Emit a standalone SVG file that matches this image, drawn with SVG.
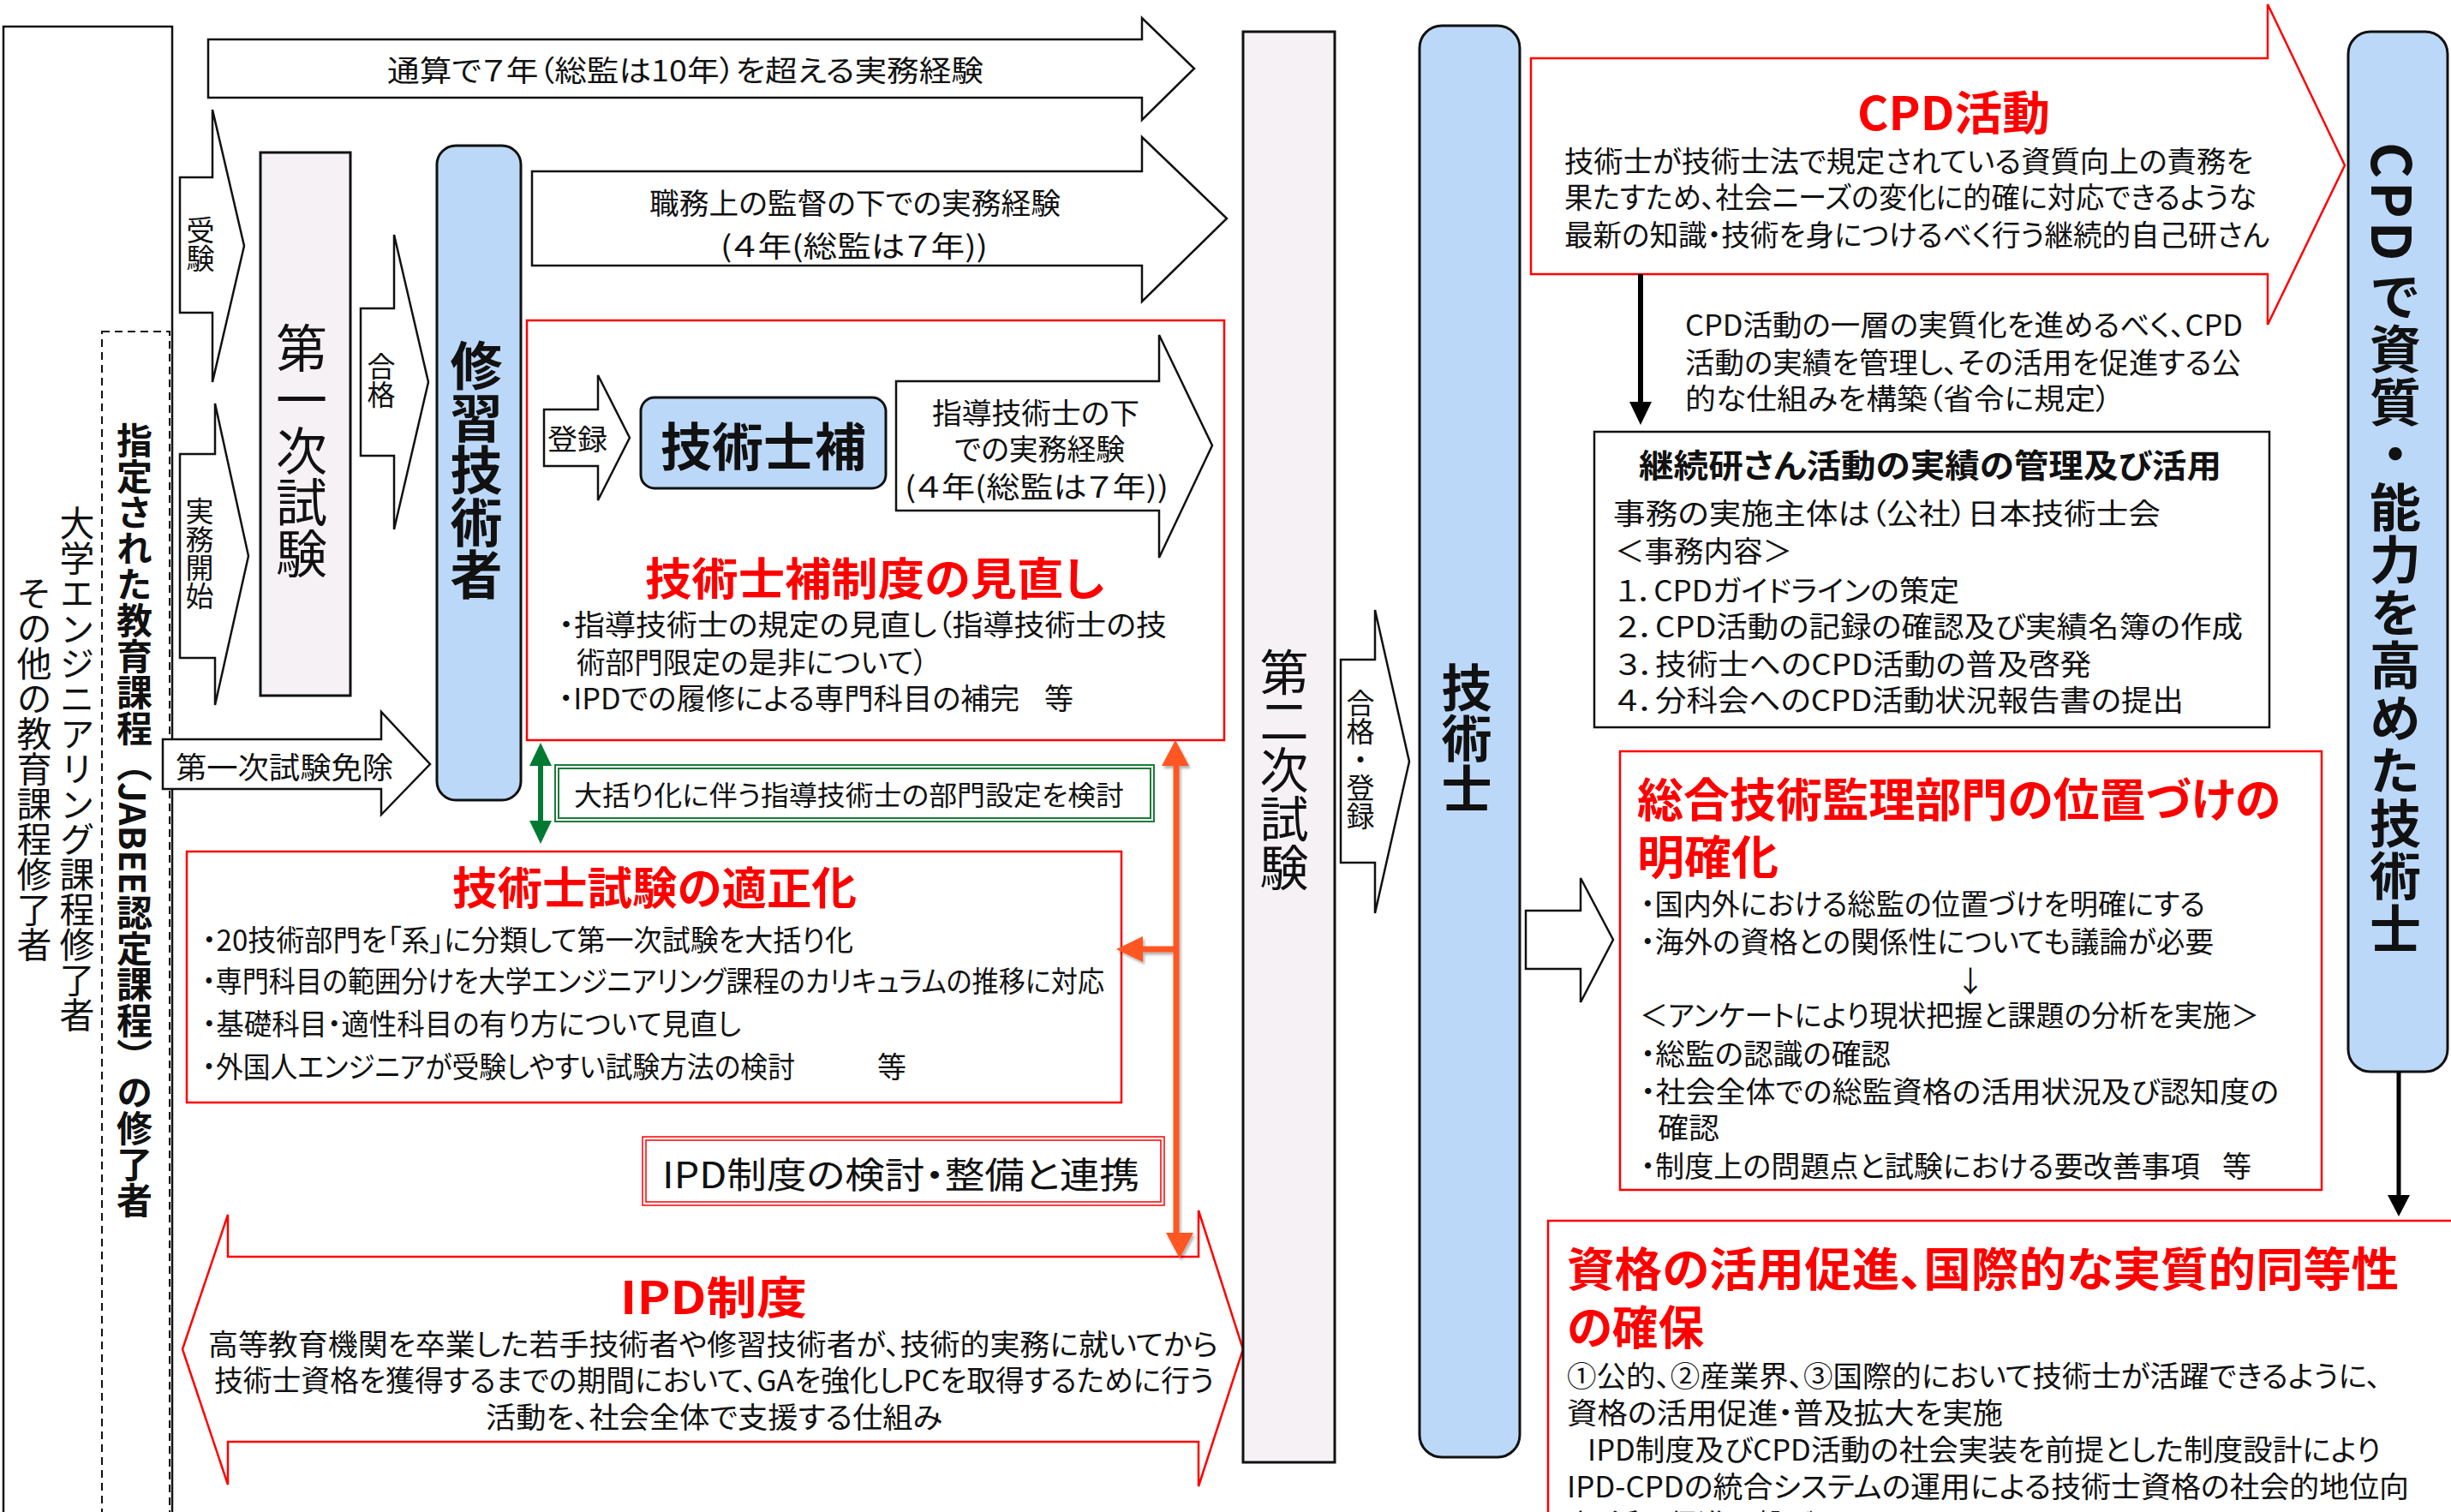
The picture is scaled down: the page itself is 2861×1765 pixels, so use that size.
<svg xmlns="http://www.w3.org/2000/svg" width="2861" height="1765" viewBox="0 0 2861 1765">
<defs>
<style>
text{font-family:"Noto Sans CJK JP","Noto Sans",sans-serif;fill:#111;dominant-baseline:central;font-size:34px}
.h{font-feature-settings:"palt"}
.v{writing-mode:vertical-rl;text-orientation:mixed}
.b{font-weight:bold}
.red{fill:#ff0000}
.f32{font-size:32px}.f33{font-size:33px}.f35{font-size:35px}.f38{font-size:38px}.f41{font-size:41px}.f42{font-size:42px}
.f52{font-size:52px}.f54{font-size:54px}.f57{font-size:57px}.f59{font-size:59px}.f60{font-size:60px}.f61{font-size:61px}.f64{font-size:64px}
.wb{fill:#fff;stroke:#111;stroke-width:2.5}
.rb{fill:#fff;stroke:#ff0000;stroke-width:2.5}
.rbn{fill:none;stroke:#ff0000;stroke-width:1.5}
.blue{fill:#bcd8f8;stroke:#111;stroke-width:3}
.lav{fill:#f5f1f5;stroke:#111;stroke-width:3}
.gb{fill:none;stroke:#1e7b3a;stroke-width:2}
.org{stroke:#ff5722;stroke-width:7}
</style>
<filter id="sh" x="-20%" y="-5%" width="140%" height="110%">
<feDropShadow dx="2" dy="3" stdDeviation="1.5" flood-color="#000" flood-opacity="0.3"/>
</filter>
</defs>
<rect width="2861" height="1765" fill="#fff"/>

<g id="left-box">
<rect x="4" y="31" width="197" height="1760" class="wb" stroke-width="3"/>
<text class="v f41" x="40" y="672">その他の教育課程修了者</text>
<text class="v f41" x="90" y="590">大学エンジニアリング課程修了者</text>
</g>
<g id="jabee-box">
<rect x="119" y="387" width="79" height="1400" fill="none" stroke="#111" stroke-width="2" stroke-dasharray="9,6"/>
<text class="v b f42" x="157" y="493">指定された教育課程（JABEE認定課程）の修了者</text>
</g>

<g id="arrow-total">
<polygon points="243,46 1333,46 1333,21 1394,80 1333,140 1333,114 243,114" class="wb"/>
<text class="h" x="452" y="80" textLength="696" lengthAdjust="spacingAndGlyphs">通算で７年（総監は10年）を超える実務経験</text>
</g>
<g id="arrow-supervised">
<polygon points="621,200 1333,200 1333,160 1432,255 1333,352 1333,310 621,310" class="wb"/>
<text class="h" x="758" y="235" textLength="480" lengthAdjust="spacingAndGlyphs">職務上の監督の下での実務経験</text>
<text class="h" x="841" y="285" textLength="312" lengthAdjust="spacingAndGlyphs">(４年(総監は７年))</text>
</g>
<g id="arrow-juken">
<polygon points="210,207 248,207 248,128 285,287 248,446 248,365 210,365" class="wb" stroke-width="2"/>
<text class="v f33" x="234" y="252">受験</text>
</g>
<g id="arrow-jitsumu">
<polygon points="210,530 251,530 251,471 290,649 251,823 251,768 210,768" class="wb" stroke-width="2"/>
<text class="v f33" x="233" y="580">実務開始</text>
</g>
<g id="first-exam">
<rect x="304" y="178" width="105" height="634" class="lav"/>
<text class="v f60" x="352" y="376">第一次試験</text>
</g>
<g id="arrow-goukaku">
<polygon points="421,360 460,360 460,274 500,446 460,618 460,532 421,532" class="wb" stroke-width="2"/>
<text class="v f33" x="445" y="411">合格</text>
</g>
<g id="shushu">
<rect x="510" y="170" width="98" height="764" rx="22" class="blue"/>
<text class="v b f61" x="556" y="396">修習技術者</text>
</g>
<g id="arrow-menjo">
<polygon points="190,863 445,863 445,831 502,892 445,951 445,921 190,921" class="wb"/>
<text class="h f35" x="205" y="893" textLength="254" lengthAdjust="spacingAndGlyphs">第一次試験免除</text>
</g>

<g id="hojo-box">
<rect x="615" y="374" width="814" height="490" class="rb" stroke-width="2"/>
<text class="h b red f52" x="753" y="672" textLength="536" lengthAdjust="spacingAndGlyphs">技術士補制度の見直し</text>
<text class="h" x="652" y="727" textLength="710" lengthAdjust="spacingAndGlyphs">・指導技術士の規定の見直し（指導技術士の技</text>
<text class="h" x="673" y="771" textLength="410" lengthAdjust="spacingAndGlyphs">術部門限定の是非について）</text>
<text class="h" y="813"><tspan x="652" textLength="538" lengthAdjust="spacingAndGlyphs">・IPDでの履修による専門科目の補完</tspan><tspan x="1219">等</tspan></text>
</g>
<g id="arrow-touroku">
<polygon points="635,478 698,478 698,438 735,511 698,584 698,544 635,544" class="wb" stroke-width="2"/>
<text class="h f33" x="639" y="511" textLength="70" lengthAdjust="spacingAndGlyphs">登録</text>
</g>
<g id="hojo">
<rect x="748" y="464" width="286" height="106" rx="16" class="blue" stroke-width="2.5"/>
<text class="b f60" x="891" y="517" text-anchor="middle">技術士補</text>
</g>
<g id="arrow-shido">
<polygon points="1046,445 1353,445 1353,391 1415,520 1353,651 1353,596 1046,596" class="wb"/>
<text class="h" x="1088" y="480" textLength="242" lengthAdjust="spacingAndGlyphs">指導技術士の下</text>
<text class="h" x="1114" y="522" textLength="199" lengthAdjust="spacingAndGlyphs">での実務経験</text>
<text class="h" x="1056" y="566" textLength="308" lengthAdjust="spacingAndGlyphs">(４年(総監は７年))</text>
</g>

<g id="bukatsu-box">
<rect x="648" y="893" width="699" height="66" class="gb"/>
<rect x="652" y="897" width="691" height="58" class="gb" stroke-width="1.2" stroke="#3c9a55"/>
<text class="h f32" x="670" y="926" textLength="642" lengthAdjust="spacingAndGlyphs">大括り化に伴う指導技術士の部門設定を検討</text>
</g>

<g id="tekisei-box">
<rect x="218" y="994" width="1091" height="293" class="rb" stroke-width="2"/>
<text class="h b red f52" x="528" y="1033" textLength="472" lengthAdjust="spacingAndGlyphs">技術士試験の適正化</text>
<text class="h" x="236" y="1095" textLength="760" lengthAdjust="spacingAndGlyphs">・20技術部門を「系」に分類して第一次試験を大括り化</text>
<text class="h" x="236" y="1143" textLength="1053" lengthAdjust="spacingAndGlyphs">・専門科目の範囲分けを大学エンジニアリング課程のカリキュラムの推移に対応</text>
<text class="h" x="236" y="1193" textLength="629" lengthAdjust="spacingAndGlyphs">・基礎科目・適性科目の有り方について見直し</text>
<text class="h" y="1243"><tspan x="236" textLength="692" lengthAdjust="spacingAndGlyphs">・外国人エンジニアが受験しやすい試験方法の検討</tspan><tspan x="1024">等</tspan></text>
</g>

<g id="ipd-kento">
<rect x="750" y="1327" width="609" height="80" class="rbn"/>
<rect x="754" y="1331" width="601" height="72" class="rbn" stroke-width="1.2"/>
<text class="h f42" x="773" y="1368" textLength="557" lengthAdjust="spacingAndGlyphs">IPD制度の検討・整備と連携</text>
</g>

<g id="ipd-arrow">
<polygon points="213,1575 266,1418 266,1467 1399,1467 1399,1413 1451,1575 1399,1735 1399,1683 266,1683 266,1733" class="rb" stroke-width="2.5"/>
<text class="h b red f52" x="724" y="1511" textLength="218" lengthAdjust="spacingAndGlyphs">IPD制度</text>
<text class="h" x="243" y="1567" textLength="1179" lengthAdjust="spacingAndGlyphs">高等教育機関を卒業した若手技術者や修習技術者が、技術的実務に就いてから</text>
<text class="h" x="250" y="1609" textLength="1167" lengthAdjust="spacingAndGlyphs">技術士資格を獲得するまでの期間において、GAを強化しPCを取得するために行う</text>
<text class="h" x="567" y="1652" textLength="533" lengthAdjust="spacingAndGlyphs">活動を、社会全体で支援する仕組み</text>
</g>

<g id="second-exam">
<rect x="1451" y="37" width="107" height="1670" class="lav"/>
<text class="v f57" x="1499" y="756">第二次試験</text>
</g>
<g id="arrow-goukaku-touroku">
<polygon points="1565,770 1605,770 1605,712 1645,889 1605,1066 1605,1007 1565,1007" class="wb" stroke-width="2"/>
<text class="v f33" x="1588" y="804">合格・登録</text>
</g>
<g id="gijutsushi">
<rect x="1657" y="30" width="117" height="1671" rx="26" class="blue"/>
<text class="v b f59" x="1712" y="773">技術士</text>
</g>

<g id="cpd-arrow">
<polygon points="1787,68 2647,68 2647,5 2737,193 2647,379 2647,320 1787,320" class="rb" stroke-width="2.5"/>
<text class="h b red f54" x="2168" y="128" textLength="225" lengthAdjust="spacingAndGlyphs">CPD活動</text>
<text class="h" x="1826" y="186" textLength="804" lengthAdjust="spacingAndGlyphs">技術士が技術士法で規定されている資質向上の責務を</text>
<text class="h" x="1826" y="228" textLength="808" lengthAdjust="spacingAndGlyphs">果たすため、社会ニーズの変化に的確に対応できるような</text>
<text class="h" x="1826" y="272" textLength="823" lengthAdjust="spacingAndGlyphs">最新の知識・技術を身につけるべく行う継続的自己研さん</text>
</g>
<g id="cpd-note">
<text class="h" x="1967" y="377" textLength="651" lengthAdjust="spacingAndGlyphs">CPD活動の一層の実質化を進めるべく、CPD</text>
<text class="h" x="1967" y="421" textLength="649" lengthAdjust="spacingAndGlyphs">活動の実績を管理し、その活用を促進する公</text>
<text class="h" x="1967" y="463" textLength="497" lengthAdjust="spacingAndGlyphs">的な仕組みを構築（省令に規定）</text>
</g>
<g id="keizoku-box">
<rect x="1861" y="504" width="788" height="345" class="wb"/>
<text class="h b f38" x="1913" y="540" textLength="680" lengthAdjust="spacingAndGlyphs">継続研さん活動の実績の管理及び活用</text>
<text class="h" x="1883" y="597" textLength="639" lengthAdjust="spacingAndGlyphs">事務の実施主体は（公社）日本技術士会</text>
<text class="h" x="1885" y="641" textLength="207" lengthAdjust="spacingAndGlyphs">＜事務内容＞</text>
<text class="h" x="1886" y="687" textLength="401" lengthAdjust="spacingAndGlyphs">１．CPDガイドラインの策定</text>
<text class="h" x="1886" y="729" textLength="732" lengthAdjust="spacingAndGlyphs">２．CPD活動の記録の確認及び実績名簿の作成</text>
<text class="h" x="1886" y="773" textLength="555" lengthAdjust="spacingAndGlyphs">３．技術士へのCPD活動の普及啓発</text>
<text class="h" x="1886" y="815" textLength="663" lengthAdjust="spacingAndGlyphs">４．分科会へのCPD活動状況報告書の提出</text>
</g>

<g id="arrow-to-soukan">
<polygon points="1781,1063 1845,1063 1845,1025 1883,1097 1845,1170 1845,1131 1781,1131" class="wb" stroke-width="2"/>
</g>
<g id="soukan-box">
<rect x="1891" y="877" width="819" height="512" class="rb" stroke-width="2"/>
<text class="h b red f54" x="1911" y="930" textLength="751" lengthAdjust="spacingAndGlyphs">総合技術監理部門の位置づけの</text>
<text class="h b red f54" x="1911" y="997" textLength="165" lengthAdjust="spacingAndGlyphs">明確化</text>
<text class="h" x="1915" y="1053" textLength="659" lengthAdjust="spacingAndGlyphs">・国内外における総監の位置づけを明確にする</text>
<text class="h" x="1915" y="1097" textLength="669" lengthAdjust="spacingAndGlyphs">・海外の資格との関係性についても議論が必要</text>
<text x="2300" y="1143" text-anchor="middle">↓</text>
<text class="h" x="1914" y="1183" textLength="723" lengthAdjust="spacingAndGlyphs">＜アンケートにより現状把握と課題の分析を実施＞</text>
<text class="h" x="1915" y="1228" textLength="292" lengthAdjust="spacingAndGlyphs">・総監の認識の確認</text>
<text class="h" x="1915" y="1272" textLength="745" lengthAdjust="spacingAndGlyphs">・社会全体での総監資格の活用状況及び認知度の</text>
<text class="h" x="1935" y="1314" textLength="72" lengthAdjust="spacingAndGlyphs">確認</text>
<text class="h" y="1359"><tspan x="1915" textLength="653" lengthAdjust="spacingAndGlyphs">・制度上の問題点と試験における要改善事項</tspan><tspan x="2594">等</tspan></text>
</g>

<g id="cpd-shishitsu">
<rect x="2741" y="37" width="116" height="1214" rx="26" class="blue"/>
<text class="v b f64" x="2796" y="166" letter-spacing="4">CPD</text>
<text class="v b f60" x="2796" y="316" letter-spacing="1.5">で資質・能力を高めた技術士</text>
</g>

<g id="katsuyou-box">
<rect x="1807" y="1425" width="1080" height="400" class="rb" stroke-width="2"/>
<text class="h b red f54" x="1829" y="1478" textLength="971" lengthAdjust="spacingAndGlyphs">資格の活用促進、国際的な実質的同等性</text>
<text class="h b red f54" x="1829" y="1546" textLength="160" lengthAdjust="spacingAndGlyphs">の確保</text>
<text class="h" x="1829" y="1604" textLength="950" lengthAdjust="spacingAndGlyphs">①公的、②産業界、③国際的において技術士が活躍できるように、</text>
<text class="h" x="1829" y="1647" textLength="509" lengthAdjust="spacingAndGlyphs">資格の活用促進・普及拡大を実施</text>
<text class="h" x="1853" y="1690" textLength="926" lengthAdjust="spacingAndGlyphs">IPD制度及びCPD活動の社会実装を前提とした制度設計により</text>
<text class="h" x="1829" y="1733" textLength="983" lengthAdjust="spacingAndGlyphs">IPD-CPDの統合システムの運用による技術士資格の社会的地位向</text>
<text class="h" x="1829" y="1777">上・活用促進に繋げる</text>
</g>

<g id="connectors">
<line x1="631" y1="890" x2="631" y2="962" stroke="#007a33" stroke-width="6"/>
<polygon points="631,867 618,894 644,894" fill="#007a33"/>
<polygon points="631,985 618,958 644,958" fill="#007a33"/>
<g filter="url(#sh)">
<line x1="1373" y1="890" x2="1373" y2="1444" class="org"/>
<polygon points="1372,864 1356,894 1388,894" fill="#ff5722"/>
<polygon points="1377,1469 1361,1439 1393,1439" fill="#ff5722"/>
<line x1="1373" y1="1108" x2="1330" y2="1108" class="org"/>
<polygon points="1303,1108 1334,1093 1334,1123" fill="#ff5722"/>
</g>
<line x1="1915" y1="320" x2="1915" y2="472" stroke="#000" stroke-width="6"/>
<polygon points="1915,496 1902,469 1928,469" fill="#000"/>
<line x1="2800" y1="1251" x2="2800" y2="1398" stroke="#000" stroke-width="5"/>
<polygon points="2800,1420 2787,1395 2813,1395" fill="#000"/>
</g>
</svg>
